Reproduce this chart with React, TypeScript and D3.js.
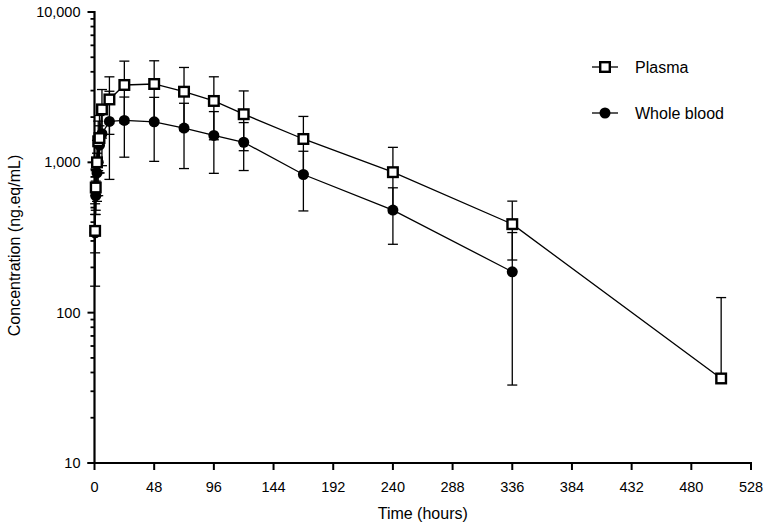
import React from "react";
import * as d3 from "d3";

const plasmaTime = [0.5, 1, 2, 3, 4, 6, 12, 24, 48, 72, 96, 120, 168, 240, 336, 504];
const plasmaMean = [350, 680, 1000, 1380, 1450, 2250, 2620, 3270, 3320, 2950, 2560, 2090, 1430, 860, 388, 36.5];
const plasmaSD = [100, 200, 400, 500, 600, 800, 1085, 1442, 1417, 1326, 1147, 895, 590, 398, 164, 89.5];

const bloodTime = [0.5, 1, 2, 3, 4, 6, 12, 24, 48, 72, 96, 120, 168, 240, 336];
const bloodMean = [340, 600, 850, 1000, 1300, 1550, 1870, 1900, 1860, 1690, 1510, 1360, 830, 481, 187];
const bloodSD = [190, 150, 300, 400, 450, 600, 1100, 818, 845, 781, 665, 478, 355, 196, 154];

const xTicks = [0, 48, 96, 144, 192, 240, 288, 336, 384, 432, 480, 528];
const yMajor = [10, 100, 1000, 10000];

const W = 780, H = 525;
const left = 94.5, right = 751, top = 12, bottom = 463;
const FONT = "'Liberation Sans', Arial, sans-serif";

export default function App() {
  const x = d3.scaleLinear().domain([0, 528]).range([left, right]);
  const y = d3.scaleLog().domain([10, 10000]).range([bottom, top]);
  const minor: number[] = [];
  for (let d = 10; d < 10000; d *= 10) for (let k = 2; k <= 9; k++) minor.push(d * k);
  const line = d3.line<[number, number]>().x((d) => x(d[0])).y((d) => y(d[1]));
  const pData = plasmaTime.map((t, i) => [t, plasmaMean[i]] as [number, number]);
  const bData = bloodTime.map((t, i) => [t, bloodMean[i]] as [number, number]);

  const errBars = (times: number[], means: number[], sds: number[], key: string) =>
    times.map((t, i) => {
      const hi = means[i] + sds[i];
      const lo = means[i] - sds[i];
      const cx = x(t);
      const yHi = y(hi);
      const yLo = lo > 10 ? y(lo) : y(means[i]);
      return (
        <g key={key + i} stroke="#000" strokeWidth={1.3}>
          <line x1={cx} x2={cx} y1={yHi} y2={yLo} />
          <line x1={cx - 5} x2={cx + 5} y1={yHi} y2={yHi} />
          {lo > 10 && <line x1={cx - 5} x2={cx + 5} y1={yLo} y2={yLo} />}
        </g>
      );
    });

  return (
    <svg width={W} height={H} style={{ position: "absolute", left: 0, top: 0 }} fontFamily={FONT}>
      <rect width={W} height={H} fill="#fff" />
      {/* y axis */}
      <line x1={left} x2={left} y1={top - 1} y2={bottom + 1} stroke="#000" strokeWidth={2.2} />
      {yMajor.map((v) => (
        <g key={"ym" + v}>
          <line x1={left - 7} x2={left} y1={y(v)} y2={y(v)} stroke="#000" strokeWidth={2} />
          <text x={left - 14} y={y(v)} dy="0.35em" textAnchor="end" fontSize={14.5}>
            {d3.format(",")(v)}
          </text>
        </g>
      ))}
      {minor.map((v) => (
        <line key={"mn" + v} x1={left - 4} x2={left} y1={y(v)} y2={y(v)} stroke="#000" strokeWidth={1.8} />
      ))}
      {/* x axis */}
      <line x1={left - 7} x2={right + 1} y1={bottom} y2={bottom} stroke="#000" strokeWidth={2.2} />
      {xTicks.map((t) => (
        <g key={"xt" + t}>
          <line x1={x(t)} x2={x(t)} y1={bottom} y2={bottom + 7} stroke="#000" strokeWidth={2} />
          <text x={x(t)} y={bottom + 29} textAnchor="middle" fontSize={14.5}>
            {t}
          </text>
        </g>
      ))}
      <text x={(left + right) / 2} y={bottom + 56} textAnchor="middle" fontSize={16}>
        Time (hours)
      </text>
      <text
        transform={`translate(20,${(top + bottom) / 2 + 8}) rotate(-90)`}
        textAnchor="middle"
        fontSize={16}
      >
        Concentration (ng.eq/mL)
      </text>

      {errBars(plasmaTime, plasmaMean, plasmaSD, "pe")}
      {errBars(bloodTime, bloodMean, bloodSD, "be")}
      <path d={line(pData) || ""} fill="none" stroke="#000" strokeWidth={1.3} />
      <path d={line(bData) || ""} fill="none" stroke="#000" strokeWidth={1.3} />
      {bData.map((d, i) => (
        <circle key={"bc" + i} cx={x(d[0])} cy={y(d[1])} r={5.5} fill="#000" />
      ))}
      {pData.map((d, i) => (
        <rect
          key={"pr" + i}
          x={x(d[0]) - 4.8}
          y={y(d[1]) - 4.8}
          width={9.6}
          height={9.6}
          fill="#fff"
          stroke="#000"
          strokeWidth={2.4}
        />
      ))}

      {/* legend */}
      <line x1={592} x2={618} y1={67} y2={67} stroke="#000" strokeWidth={1.3} />
      <rect x={605 - 4.8} y={67 - 4.8} width={9.6} height={9.6} fill="#fff" stroke="#000" strokeWidth={2.4} />
      <text x={635} y={67} dy="0.35em" fontSize={16}>Plasma</text>
      <line x1={592} x2={618} y1={113} y2={113} stroke="#000" strokeWidth={1.3} />
      <circle cx={605} cy={113} r={5.5} fill="#000" />
      <text x={635} y={113} dy="0.35em" fontSize={16}>Whole blood</text>
    </svg>
  );
}
